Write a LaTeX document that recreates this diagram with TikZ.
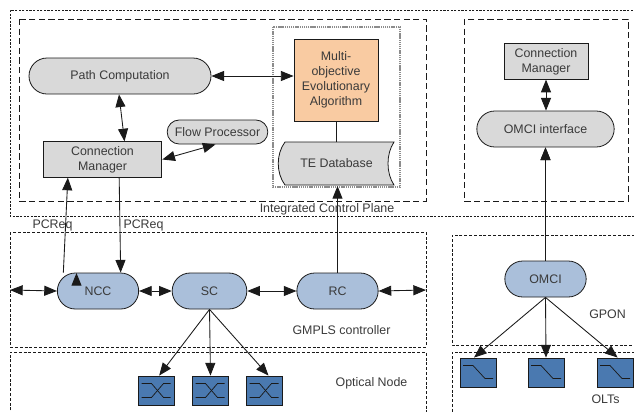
\documentclass[tikz,border=0pt]{standalone}
\usepackage{fontspec}
\setmainfont{Liberation Sans}
\usetikzlibrary{arrows.meta,shapes.misc,calc}
\definecolor{txt}{HTML}{3A3A3A}
\definecolor{ln}{HTML}{1A1A1A}
\definecolor{grayfill}{HTML}{D9D9D9}
\definecolor{bluefill}{HTML}{AABFDA}
\definecolor{orangefill}{HTML}{F9CBA2}
\definecolor{swfill}{HTML}{4A79B0}
\tikzset{
  lbl/.style={inner sep=0pt,text=txt,font=\fontsize{9.3pt}{11.2pt}\selectfont,align=center},
  pill/.style={lbl,rounded rectangle,draw=ln,line width=.6pt,minimum height=27pt},
  graypill/.style={pill,fill=grayfill},
  bluepill/.style={pill,fill=bluefill},
  grayrect/.style={lbl,draw=ln,line width=.7pt,fill=grayfill},
  swbox/.style={draw=ln,line width=.7pt,fill=swfill,minimum width=27pt,minimum height=21.7pt,inner sep=0pt},
  sym/.style={line width=.55pt,draw=ln},
  conn/.style={draw=ln,line width=.65pt},
  tip/.style={-{Triangle[length=9.5pt,width=7.5pt]}},
  tips/.style={{Triangle[length=9.5pt,width=7.5pt]}-{Triangle[length=9.5pt,width=7.5pt]}},
  dashA/.style={draw=ln,line width=.6pt,dash pattern=on 1.7pt off 1pt},
  dashB/.style={draw=ln,line width=.6pt,dash pattern=on 4.6pt off 2.6pt},
  dashC/.style={draw=ln,line width=.6pt,dash pattern=on 2.2pt off 1.4pt},
  dashG/.style={draw=gray!90,line width=.8pt,dash pattern=on 1pt off .6pt},
}
\begin{document}
\begin{tikzpicture}[x=.75pt,y=-.75pt]
\useasboundingbox (0,0) rectangle (634,411);
% frames
\draw[dashA] (640,10) -- (10,10) -- (10,216) -- (640,216);
\draw[dashB] (19,19) rectangle (426,201);
\draw[dashB] (464,19) rectangle (628,201);
\draw[dashG] (273,27) rectangle (400,187);
\draw[dashC] (10,232) rectangle (426,347);
\draw[dashC] (10,420) -- (10,352) -- (426,352) -- (426,420);
\draw[dashC] (640,235) -- (452,235) -- (452,345) -- (640,345);
\draw[dashC] (640,352) -- (452,352) -- (452,420);
% upper-left nodes
\node[graypill,minimum width=136.5pt] (pc) at (120,76) {Path Computation};
\node[grayrect,minimum width=89pt,minimum height=26.5pt] (cm) at (102.5,159.5) {Connection\\Manager};
\node[graypill,minimum width=75.5pt,minimum height=18pt] (fp) at (217.5,132) {Flow Processor};
\node[grayrect,fill=orangefill,minimum width=63pt,minimum height=61.5pt] (ea) at (336,80) {Multi-\\objective\\Evolutionary\\Algorithm};
\draw[draw=ln,line width=.6pt,fill=grayfill] (285,142) -- (394,142) .. controls (386,154) and (386,173) .. (394,185) -- (285,185) .. controls (276,173) and (276,154) .. (285,142) -- cycle;
\node[lbl,minimum width=86pt,minimum height=32pt] (te) at (336.5,163.5) {TE Database};
% upper-right nodes
\node[grayrect,minimum width=63pt,minimum height=26.5pt] (cmr) at (546,61.5) {Connection\\Manager};
\node[graypill,minimum width=103pt] (oi) at (545.5,129) {OMCI interface};
% GMPLS and GPON nodes
\node[bluepill,minimum width=61pt] (ncc) at (98,291) {NCC};
\node[bluepill,minimum width=56pt] (sc) at (209.5,291) {SC};
\node[bluepill,minimum width=61pt] (rc) at (337.5,291) {RC};
\node[bluepill,minimum width=61pt] (omci) at (545.5,279) {OMCI};
% switches
\node[swbox] (s1) at (156.5,390.5) {};
\node[swbox] (s2) at (210.5,390.5) {};
\node[swbox] (s3) at (264.5,390.5) {};
\node[swbox] (o1) at (478,372.5) {};
\node[swbox] (o2) at (546,372.5) {};
\node[swbox] (o3) at (615,372.5) {};
\foreach \n in {s1,s2,s3}{
  \draw[sym] ($(\n.center)+(-15,-7)$) -- ++(10,0) -- ++(12,14) -- ++(7,0);
  \draw[sym] ($(\n.center)+(-15,7)$) -- ++(10,0) -- ++(12,-14) -- ++(7,0);
}
\foreach \n in {o1,o2,o3}{
  \draw[sym] ($(\n.center)+(-15,-7)$) -- ++(10,0) -- ++(12,13) -- ++(8,0);
}
% free ends
\coordinate (gl) at (10,290);
\coordinate (gr) at (426,290);
% connectors
\draw[conn,tips] (pc.east) -- (pc.east -| ea.west);
\draw[conn,tips] (pc.south -| cm.north) ++(16.5,0) -- ([xshift=16.5]cm.north);
\draw[conn,tips] (cm.east) -- ([xshift=-1.5]fp.south);
\draw[conn,tip] ([xshift=-26]ncc.north) -- ([xshift=-26]cm.south);
\draw[conn,tip] ([xshift=12.5]cm.south) -- ([xshift=17]ncc.north);
\draw[conn] (ea.south) -- (ea.south |- te.north);
\draw[conn,tip] (rc.north) -- (rc.north |- 0,186);
\draw[conn,tips] (cmr.south) -- (cmr.south |- oi.north);
\draw[conn,tip] (omci.north) -- (oi.south);
\draw[conn,tips] (gl) -- (ncc.west);
\draw[conn,tips] (ncc.east) -- (sc.west);
\draw[conn,tips] (sc.east) -- (rc.west);
\draw[conn,tips] (rc.east) -- (gr);
\draw[conn,tip] (sc.south) -- ([xshift=2]s1.north);
\draw[conn,tip] (sc.south) -- (s2.north);
\draw[conn,tip] (sc.south) -- ([xshift=3]s3.north);
\draw[conn,tip] (omci.south) -- ([xshift=-3]o1.north);
\draw[conn,tip] (omci.south) -- (o2.north);
\draw[conn,tip] (omci.south) -- ([xshift=2]o3.north);
% oi arrow start is at omci
\draw[conn,tip] (oi.south |- 0,261) -- (oi.south);
\draw[conn,tip] (cm.south |- 0,273) ++(-26,0);
% labels
\node[lbl] (lp) at (327,209) {Integrated Control Plane};
\node[lbl] (l1) at (52.5,225) {PCReq};
\node[lbl] (l2) at (143.5,225) {PCReq};
\node[lbl] (lg) at (341.5,330) {GMPLS controller};
\node[lbl] (lo) at (371.5,383) {Optical Node};
\node[lbl] (lgp) at (607.5,314) {GPON};
\node[lbl] (lol) at (605.5,399) {OLTs};
\end{tikzpicture}
\end{document}
